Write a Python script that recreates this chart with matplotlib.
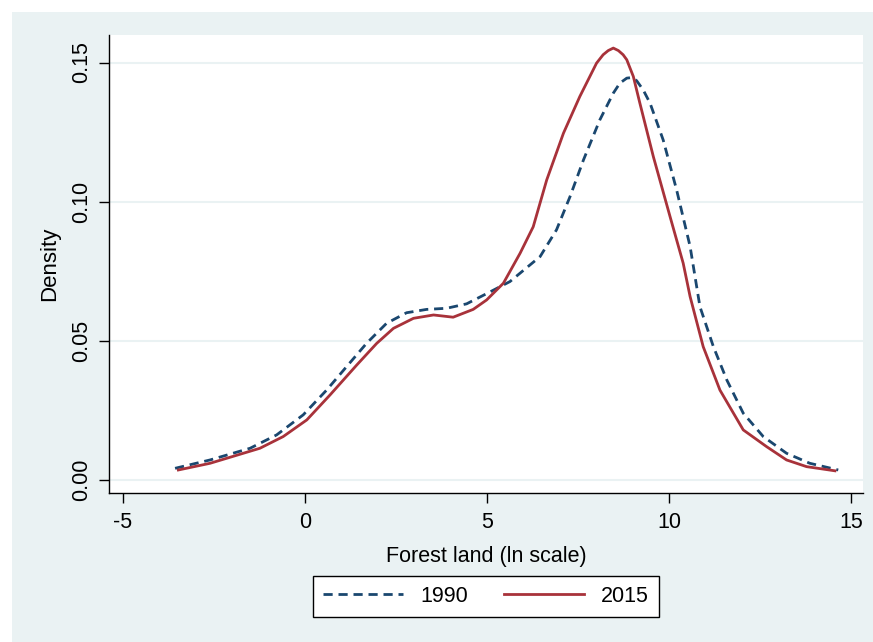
import matplotlib.pyplot as plt
from matplotlib.patches import Rectangle

plt.rcParams['font.family'] = ['Liberation Sans', 'DejaVu Sans']
plt.rcParams['axes.unicode_minus'] = False

# kernel density estimates of forest land (ln scale)
x1990 = [-3.57, -2.61, -1.51, -0.78, -0.05, 0.60, 1.14, 1.69, 2.24, 2.79, 3.34,
         3.89, 4.44, 5.04, 5.63, 6.46, 6.91, 7.28, 7.65, 8.10, 8.47, 8.65, 8.84,
         8.97, 9.11, 9.29, 9.48, 9.84, 10.21, 10.58, 10.85, 11.22, 11.59, 12.04,
         12.59, 13.23, 13.87, 14.65]
d1990 = [0.0042, 0.0072, 0.0114, 0.0162, 0.0234, 0.0324, 0.0407, 0.0491, 0.0563,
         0.0601, 0.0613, 0.0617, 0.0633, 0.0673, 0.0713, 0.0803, 0.0899, 0.1018,
         0.1150, 0.1294, 0.1390, 0.1426, 0.1444, 0.1446, 0.1435, 0.1402, 0.1354,
         0.1222, 0.1042, 0.0839, 0.0623, 0.0479, 0.0359, 0.0240, 0.0156, 0.0096,
         0.0060, 0.0036]

x2015 = [-3.48, -2.61, -1.24, -0.60, 0.05, 0.69, 1.42, 1.97, 2.43, 2.98, 3.53,
         4.07, 4.62, 4.99, 5.45, 5.91, 6.27, 6.64, 7.10, 7.55, 8.01, 8.19, 8.33,
         8.47, 8.61, 8.74, 8.84, 9.02, 9.20, 9.57, 10.03, 10.39, 10.58, 10.94,
         11.40, 12.04, 12.68, 13.23, 13.78, 14.56]
d2015 = [0.0036, 0.0060, 0.0114, 0.0156, 0.0216, 0.0306, 0.0413, 0.0491, 0.0545,
         0.0581, 0.0593, 0.0585, 0.0613, 0.0647, 0.0707, 0.0815, 0.0910, 0.1078,
         0.1246, 0.1378, 0.1498, 0.1528, 0.1543, 0.1552, 0.1543, 0.1528, 0.1510,
         0.1450, 0.1354, 0.1162, 0.0946, 0.0779, 0.0659, 0.0479, 0.0323, 0.0180,
         0.0120, 0.0072, 0.0048, 0.0033]

xticks = [-5, 0, 5, 10, 15]
yticks = [0.00, 0.05, 0.10, 0.15]

bg = '#EAF2F3'
navy = '#1A476F'
maroon = '#A8323A'

fig = plt.figure(figsize=(8.73, 6.42), dpi=100, facecolor='white')
fig.patches.append(Rectangle((12 / 873, 0), 1, 1 - 12 / 642,
                             transform=fig.transFigure, facecolor=bg,
                             edgecolor='none', zorder=-10))

ax = fig.add_axes([109 / 873, 1 - 493 / 642, 754 / 873, 458 / 642])
ax.set_facecolor('white')

ax.plot(x1990, d1990, color=navy, lw=2.0, dashes=(3.3, 2.1),
        solid_joinstyle='round', label='1990')
ax.plot(x2015, d2015, color=maroon, lw=2.0, solid_joinstyle='round',
        label='2015')

ax.set_xlim(-5.385, 15.33)
ax.set_ylim(-0.00467, 0.1599)
ax.set_xticks(xticks)
ax.set_yticks(yticks)
ax.set_yticklabels(['%.2f' % v for v in yticks], rotation=90, va='center')
ax.grid(axis='y', color=bg, lw=1.5)
ax.set_axisbelow(True)
ax.tick_params(length=7, width=1, labelsize=15.5)
ax.tick_params(axis='x', pad=7)
ax.tick_params(axis='y', pad=5)

for s in ['top', 'right']:
    ax.spines[s].set_visible(False)
for s in ['left', 'bottom']:
    ax.spines[s].set_linewidth(1)

ax.set_xlabel('Forest land (ln scale)', fontsize=15.5, labelpad=9)
ax.set_ylabel('Density', fontsize=16, labelpad=8)

leg = fig.legend(loc='center', bbox_to_anchor=(486 / 873, 1 - 596.5 / 642),
                 ncol=2, fontsize=15.5, frameon=True, fancybox=False,
                 framealpha=1, edgecolor='black', handlelength=3.7,
                 handletextpad=0.8, columnspacing=1.7, borderpad=0.45)
leg.get_frame().set_linewidth(1)

fig.savefig('out.png', dpi=100, facecolor=fig.get_facecolor())
